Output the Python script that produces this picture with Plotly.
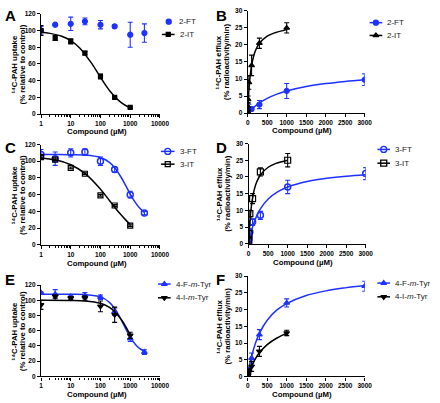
import plotly.graph_objects as go

W, H = 440, 403
BLUE = "rgb(30,50,255)"
BLACK = "rgb(0,0,0)"
FONT = "Liberation Sans"

# ---------------- Panel A (uptake, 2-FT / 2-IT) ----------------
a_x_ft = [1, 3, 10, 30, 100, 300, 1000, 3000]
a_y_ft = [100, 107, 108, 111, 107, 105, 95, 97]
a_e_ft = [5, 1, 8, 4, 5, 2, 15, 11]
a_x_it = [1, 3, 10, 30, 100, 300, 1000]
a_y_it = [100, 91, 87, 73, 45, 20, 8]
a_e_it = [6, 3, 3, 2, 3, 1, 1]
a_cx_it = [1, 2, 5, 10, 20, 50, 100, 200, 500, 1000]
a_cy_it = [97.8, 96.6, 93.2, 88.0, 79.2, 60.9, 44.0, 28.3, 13.7, 7.3]

# ---------------- Panel B (efflux, 2-FT / 2-IT) ----------------
b_x_ft = [0, 10, 30, 100, 300, 1000, 3000]
b_y_ft = [0.3, 0.5, 0.8, 1.2, 2.5, 6.5, 9.8]
b_e_ft = [0.5, 1.0, 1.8, 0.5, 1.2, 2.2, 1.7]
b_cx_ft = [0, 100, 250, 500, 750, 1000, 1500, 2000, 2500, 3000]
b_cy_ft = [0, 1.17, 2.58, 4.31, 5.55, 6.48, 7.79, 8.67, 9.30, 9.77]
b_x_it = [0, 1, 3, 10, 30, 100, 300, 1000]
b_y_it = [0.3, 1, 2, 4, 9, 14, 20.5, 25]
b_e_it = [0.3, 0.5, 1, 1, 2, 3, 1.5, 1.5]
b_cx_it = [0, 10, 25, 50, 100, 150, 200, 300, 500, 700, 1000]
b_cy_it = [0, 2.64, 5.75, 9.47, 13.98, 16.6, 18.35, 20.49, 22.6, 23.6, 24.5]

# ---------------- Panel C (uptake, 3-FT / 3-IT) ----------------
c_x_ft = [1, 3, 10, 30, 100, 300, 1000, 3000]
c_y_ft = [108, 103, 110, 111, 100, 90, 60, 38]
c_e_ft = [6, 8, 5, 4, 5, 3, 4, 2]
c_cx_ft = [1, 3, 10, 30, 100, 200, 300, 500, 700, 1000, 1500, 2000, 3000]
c_cy_ft = [108, 108, 107.9, 107.4, 104.4, 98.6, 92.2, 80.5, 71.0, 60.7, 50.4, 44.6, 38.7]
c_x_it = [1, 3, 10, 30, 100, 300, 1000]
c_y_it = [105, 102, 92, 85, 59, 47, 23]
c_e_it = [2, 1, 1, 1, 1, 1, 1]
c_cx_it = [1, 3, 10, 30, 100, 200, 300, 500, 700, 1000]
c_cy_it = [104, 101.7, 95.8, 85.4, 66.5, 53, 45, 35.5, 29.8, 24.4]

# ---------------- Panel D (efflux, 3-FT / 3-IT) ----------------
d_x_ft = [0, 10, 30, 100, 300, 1000, 3000]
d_y_ft = [0.5, 1.5, 3.5, 6.5, 8.5, 17, 21]
d_e_ft = [0.5, 0.8, 1, 1, 1.2, 2, 1.8]
d_cx_ft = [0, 25, 50, 100, 200, 300, 500, 750, 1000, 1500, 2000, 2500, 3000]
d_cy_ft = [0, 1.48, 2.79, 4.98, 8.2, 10.45, 13.4, 15.6, 17.0, 18.65, 19.6, 20.24, 20.68]
d_x_it = [0, 10, 30, 100, 300, 1000]
d_y_it = [1, 3, 9, 13.5, 21.5, 25]
d_e_it = [0.5, 1, 1, 1.5, 1.2, 2]
d_cx_it = [0, 10, 25, 50, 100, 150, 200, 300, 500, 700, 1000]
d_cy_it = [0, 2.5, 5.5, 9.17, 13.75, 16.5, 18.33, 20.6, 22.9, 24.06, 25.0]

# ---------------- Panel E (uptake, 4-F-m-Tyr / 4-I-m-Tyr) ----------------
e_x_f = [1, 3, 10, 30, 100, 300, 1000, 3000]
e_y_f = [110, 108, 105, 106, 104, 85, 50, 32]
e_e_f = [1, 6, 2, 4, 3, 5, 4, 3]
e_cx_f = [1, 10, 30, 100, 200, 300, 500, 700, 1000, 1500, 2000, 3000]
e_cy_f = [108, 107.9, 107.5, 104.4, 97.3, 89.2, 74.2, 62.8, 51.6, 41.9, 37.1, 32.9]
e_x_i = [1, 3, 10, 30, 100, 300, 1000]
e_y_i = [94, 105, 103, 103, 92, 81, 54]
e_e_i = [6, 2, 2, 3, 7, 10, 4]
e_cx_i = [1, 10, 30, 100, 200, 300, 500, 700, 1000]
e_cy_i = [100, 99.8, 99.1, 96, 90.7, 85.1, 74.7, 65.6, 54.5]

# ---------------- Panel F (efflux, 4-F-m-Tyr / 4-I-m-Tyr) ----------------
f_x_f = [0, 10, 30, 100, 300, 1000, 3000]
f_y_f = [0, 1, 2, 5.5, 12.5, 22, 27]
f_e_f = [0.5, 0.5, 0.8, 1.5, 1.5, 1.2, 1.5]
f_cx_f = [0, 50, 100, 200, 300, 500, 750, 1000, 1500, 2000, 2500, 3000]
f_cy_f = [0, 3.3, 5.96, 10, 12.9, 16.8, 19.9, 21.8, 24.2, 25.6, 26.5, 27.2]
f_x_i = [0, 10, 30, 100, 300, 1000]
f_y_i = [0, 0.8, 1.5, 3, 7.5, 13]
f_e_i = [0.3, 0.5, 0.8, 1.5, 1.5, 0.8]
f_cx_i = [0, 50, 100, 200, 300, 500, 750, 1000]
f_cy_i = [0, 1.67, 3.08, 5.33, 7.06, 9.52, 11.5, 12.9]

log_ticks = [1, 10, 100, 1000, 10000]
log_ticktext = ["1", "10", "100", "1000", "10000"]
lin_ticks = [0, 500, 1000, 1500, 2000, 2500, 3000]
uptake_ticks = [0, 20, 40, 60, 80, 100, 120]
efflux_ticks = [0, 5, 10, 15, 20, 25, 30]

UPTAKE_TITLE = ["¹⁴C-PAH uptake", "(% relative to control)"]
EFFLUX_TITLE = ["¹⁴C-PAH efflux", "(% radioactivity/min)"]
X_TITLE = "Compound (µM)"

# panel boxes in pixels: (x0, x1, ytop, ybottom)
boxes = {
    1: (40, 162, 10, 112),
    2: (252, 372, 7, 111),
    3: (40, 162, 143, 245),
    4: (253, 373, 142, 244),
    5: (40, 162, 286, 379),
    6: (252, 372, 277, 379),
}
# title positions in pixels: (x-title centre x, x-title centre y, y-title line1 x, line2 x)
title_pos = {
    1: (97, 130, 13, 21),
    2: (308, 129, 223, 231),
    3: (97, 264, 13, 21),
    4: (309, 263, 223, 231),
    5: (97, 397, 13, 21),
    6: (308, 397, 223, 231),
}

fig = go.Figure()


def ax(n):
    return ("x" if n == 1 else f"x{n}"), ("y" if n == 1 else f"y{n}")


def points(n, x, y, e, color, symbol, lw=1.2, size=5):
    xa, ya = ax(n)
    fig.add_trace(go.Scatter(
        x=x, y=y, mode="markers", xaxis=xa, yaxis=ya, showlegend=False,
        marker=dict(symbol=symbol, size=size, color=color,
                    line=dict(color=color, width=lw)),
        error_y=dict(type="data", array=e, color=color, thickness=1.1, width=2.5),
    ))


def curve(n, x, y, color):
    xa, ya = ax(n)
    fig.add_trace(go.Scatter(
        x=x, y=y, mode="lines", xaxis=xa, yaxis=ya, showlegend=False, hoverinfo="skip",
        line=dict(color=color, width=1.5, shape="spline"),
    ))


# A
points(1, a_x_ft, a_y_ft, a_e_ft, BLUE, "circle")
curve(1, a_cx_it, a_cy_it, BLACK)
points(1, a_x_it, a_y_it, a_e_it, BLACK, "square", size=4)
# B
curve(2, b_cx_ft, b_cy_ft, BLUE)
points(2, b_x_ft, b_y_ft, b_e_ft, BLUE, "circle")
curve(2, b_cx_it, b_cy_it, BLACK)
points(2, b_x_it, b_y_it, b_e_it, BLACK, "triangle-up")
# C
curve(3, c_cx_ft, c_cy_ft, BLUE)
points(3, c_x_ft, c_y_ft, c_e_ft, BLUE, "circle-open", lw=1.5, size=6)
curve(3, c_cx_it, c_cy_it, BLACK)
points(3, c_x_it, c_y_it, c_e_it, BLACK, "square-open", lw=1.2, size=5)
# D
curve(4, d_cx_ft, d_cy_ft, BLUE)
points(4, d_x_ft, d_y_ft, d_e_ft, BLUE, "circle-open", lw=1.5, size=6)
curve(4, d_cx_it, d_cy_it, BLACK)
points(4, d_x_it, d_y_it, d_e_it, BLACK, "square-open", lw=1.2, size=6)
# E
curve(5, e_cx_f, e_cy_f, BLUE)
points(5, e_x_f, e_y_f, e_e_f, BLUE, "triangle-up")
curve(5, e_cx_i, e_cy_i, BLACK)
points(5, e_x_i, e_y_i, e_e_i, BLACK, "triangle-down")
# F
curve(6, f_cx_f, f_cy_f, BLUE)
points(6, f_x_f, f_y_f, f_e_f, BLUE, "triangle-up")
curve(6, f_cx_i, f_cy_i, BLACK)
points(6, f_x_i, f_y_i, f_e_i, BLACK, "triangle-down")

# ---- hand-built legends on an overlay pixel axis (x7/y7) ----
legend_rows = [
    ("2-FT", BLUE, "circle", 5, False, 166, 176, 18),
    ("2-IT", BLACK, "square", 4, True, 164, 177, 31),
    ("2-FT", BLUE, "circle", 5, True, 377, 390, 19),
    ("2-IT", BLACK, "triangle-up", 5, True, 377, 390, 32),
    ("3-FT", BLUE, "circle-open", 6, True, 163, 177, 150),
    ("3-IT", BLACK, "square-open", 5, True, 163, 177, 163),
    ("3-FT", BLUE, "circle-open", 6, True, 385, 398, 148),
    ("3-IT", BLACK, "square-open", 6, True, 385, 398, 162),
    ("4-F-<i>m</i>-Tyr", BLUE, "triangle-up", 5, True, 160, 173, 285),
    ("4-I-<i>m</i>-Tyr", BLACK, "triangle-down", 5, True, 160, 173, 299),
    ("4-F-<i>m</i>-Tyr", BLUE, "triangle-up", 5, True, 385, 398, 284),
    ("4-I-<i>m</i>-Tyr", BLACK, "triangle-down", 5, True, 385, 398, 298),
]
for label, color, symbol, size, has_line, gx0, gx1, gy in legend_rows:
    if has_line:
        fig.add_trace(go.Scatter(x=[gx0, gx1], y=[gy, gy], mode="lines", xaxis="x7", yaxis="y7",
                                 showlegend=False, hoverinfo="skip",
                                 line=dict(color=color, width=1.5)))
    fig.add_trace(go.Scatter(x=[(gx0 + gx1) / 2], y=[gy], mode="markers", xaxis="x7", yaxis="y7",
                             showlegend=False, hoverinfo="skip",
                             marker=dict(symbol=symbol, size=size, color=color,
                                         line=dict(color=color, width=1.3))))
    fig.add_annotation(text=label, x=(gx1 + 3) / W, y=1 - gy / H, xref="paper", yref="paper",
                       xanchor="left", yanchor="middle", showarrow=False,
                       font=dict(family=FONT, size=8, color="#222"))

tickfont = dict(family=FONT, size=6.5, color="black", weight="bold")
titlefont = dict(family=FONT, size=7.8, color="black", weight="bold")

minor_log = [m * 10 ** k for k in range(4) for m in range(2, 10)]

layout = dict(
    width=W, height=H, margin=dict(l=0, r=0, t=0, b=0),
    paper_bgcolor="white", plot_bgcolor="rgba(0,0,0,0)",
    font=dict(family=FONT, color="black"), showlegend=False,
    xaxis7=dict(domain=[0, 1], range=[0, W], visible=False, fixedrange=True),
    yaxis7=dict(domain=[0, 1], range=[H, 0], visible=False, fixedrange=True, anchor="x7"),
)

for n, (x0, x1, yt, yb) in boxes.items():
    xkey = "xaxis" if n == 1 else f"xaxis{n}"
    ykey = "yaxis" if n == 1 else f"yaxis{n}"
    xa, ya = ax(n)
    uptake = n in (1, 3, 5)
    common = dict(showline=True, linecolor="black", linewidth=1.3, ticks="outside",
                  ticklen=3, tickwidth=1.1, tickcolor="black", showgrid=False,
                  zeroline=False, tickfont=tickfont)
    if uptake:
        xdict = dict(type="log", range=[0, 4], tickvals=log_ticks, ticktext=log_ticktext,
                     minor=dict(tickvals=minor_log, ticks="outside", ticklen=2,
                                tickcolor="black", tickwidth=0.8, showgrid=False))
        ydict = dict(range=[0, 120], tickvals=uptake_ticks)
        ytitle = UPTAKE_TITLE
    else:
        xdict = dict(range=[0, 3000], tickvals=lin_ticks)
        ydict = dict(range=[0, 30], tickvals=efflux_ticks)
        ytitle = EFFLUX_TITLE
    xdict.update(common)
    ydict.update(common)
    xdict.update(domain=[x0 / W, x1 / W], anchor=ya)
    ydict.update(domain=[1 - yb / H, 1 - yt / H], anchor=xa)
    layout[xkey] = xdict
    layout[ykey] = ydict

    tx, ty, l1x, l2x = title_pos[n]
    fig.add_annotation(text=X_TITLE, x=tx / W, y=1 - ty / H, xref="paper", yref="paper",
                       xanchor="center", yanchor="middle", showarrow=False, font=titlefont)
    ymid = 1 - (yt + yb) / 2 / H
    for line, lx in zip(ytitle, (l1x, l2x)):
        fig.add_annotation(text=line, x=lx / W, y=ymid, xref="paper", yref="paper",
                           xanchor="center", yanchor="middle", showarrow=False,
                           textangle=-90, font=titlefont)

fig.update_layout(**layout)

letters = [("A", 1, 1), ("B", 217, 1), ("C", 1, 135), ("D", 217, 135), ("E", 1, 270), ("F", 217, 270)]
for t, px, py in letters:
    fig.add_annotation(text=t, x=px / W, y=1 - py / H, xref="paper", yref="paper",
                       xanchor="left", yanchor="top", showarrow=False,
                       font=dict(family=FONT, size=15, color="black", weight="bold"))

fig.write_html("out.html", config={"displayModeBar": False},
               post_script="document.body.style.margin='0';")
